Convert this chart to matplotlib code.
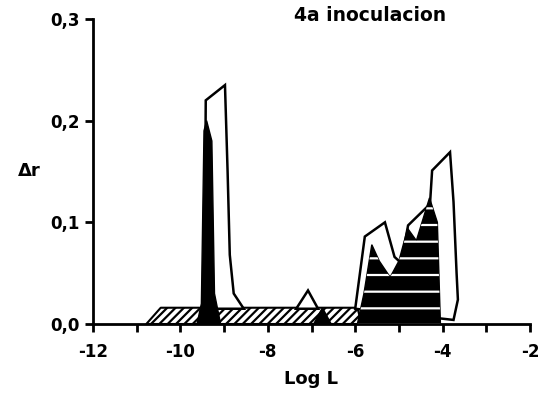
import matplotlib
matplotlib.use("Agg")
import matplotlib.pyplot as plt
import numpy as np

# Front (hatched) series
front_x = [-10.78, -10.45, -5.95, -5.85]
front_y = [0.0, 0.016, 0.016, 0.0]

# Back (white, outlined) series, three segments
back1_x = [-9.45, -9.42, -8.98, -8.92, -8.87, -8.78, -8.55]
back1_y = [0.015, 0.220, 0.235, 0.150, 0.068, 0.030, 0.015]
back2_x = [-7.35, -7.08, -6.85]
back2_y = [0.015, 0.033, 0.015]
back3_x = [-6.00, -5.78, -5.32, -5.10, -4.95, -4.79, -4.36, -4.30, -4.24, -3.83, -3.75, -3.68, -3.65, -3.75]
back3_y = [0.015, 0.086, 0.100, 0.066, 0.060, 0.097, 0.115, 0.110, 0.151, 0.169, 0.120, 0.050, 0.024, 0.004]

# Middle (black) series
mid1_x = [-9.62, -9.52, -9.46, -9.40, -9.28, -9.22, -9.08]
mid1_y = [0.0, 0.020, 0.190, 0.200, 0.180, 0.030, 0.0]
mid2_x = [-6.95, -6.75, -6.55]
mid2_y = [0.0, 0.016, 0.0]
mid3_x = [-5.95, -5.80, -5.62, -5.45, -5.20, -5.00, -4.80, -4.60, -4.30, -4.12, -4.05]
mid3_y = [0.0, 0.030, 0.078, 0.062, 0.046, 0.062, 0.094, 0.082, 0.124, 0.100, 0.0]

xticks_major = [-12, -10, -8, -6, -4, -2]
xtick_labels = ["-12", "-10", "-8", "-6", "-4", "-2"]
xticks_minor = [-11, -9, -7, -5, -3]
yticks = [0.0, 0.1, 0.2, 0.3]
ytick_labels = ["0,0", "0,1", "0,2", "0,3"]

plt.rcParams['hatch.linewidth'] = 1.6

fig = plt.figure(figsize=(5.44, 4.01), dpi=100)
ax = fig.add_axes([93/544, 1-324/401, (530-93)/544, (324-19)/401])

ax.fill_between(front_x, 0, front_y, facecolor="white", edgecolor="black",
                hatch="////", linewidth=1.5, zorder=1)
for bx, by in [(back1_x, back1_y), (back2_x, back2_y), (back3_x, back3_y)]:
    ax.fill(bx, by, facecolor="white", edgecolor="black", linewidth=1.8, zorder=2)
for mx, my in [(mid1_x, mid1_y), (mid2_x, mid2_y)]:
    ax.fill(mx, my, facecolor="black", edgecolor="black", linewidth=1.0, zorder=3)
ax.fill(mid3_x, mid3_y, facecolor="black", edgecolor="black", linewidth=1.0, zorder=3)
ax.fill(mid3_x, mid3_y, facecolor="none", edgecolor="white", hatch="-", linewidth=0, zorder=3.5)

ax.set_xlim(-12, -2)
ax.set_ylim(0, 0.3)
for s in ["top", "right"]:
    ax.spines[s].set_visible(False)
for s in ["left", "bottom"]:
    ax.spines[s].set_linewidth(2)
ax.set_xticks(xticks_major)
ax.set_xticklabels(xtick_labels)
ax.set_xticks(xticks_minor, minor=True)
ax.set_yticks(yticks)
ax.set_yticklabels(ytick_labels)
ax.tick_params(axis="both", which="both", direction="out", length=6, width=2, labelsize=12)
ax.tick_params(axis="x", pad=8)
for lab in ax.get_xticklabels() + ax.get_yticklabels():
    lab.set_fontweight("bold")

ax.set_xlabel("Log L", fontsize=13, fontweight="bold", labelpad=6)
ax.text(-13.45, 0.15, "Δr", fontsize=13, fontweight="bold", ha="center", va="center")
ax.text(-7.4, 0.303, "4a inoculacion", fontsize=13.5, fontweight="bold", ha="left", va="center")

fig.savefig("out.png", dpi=100)
